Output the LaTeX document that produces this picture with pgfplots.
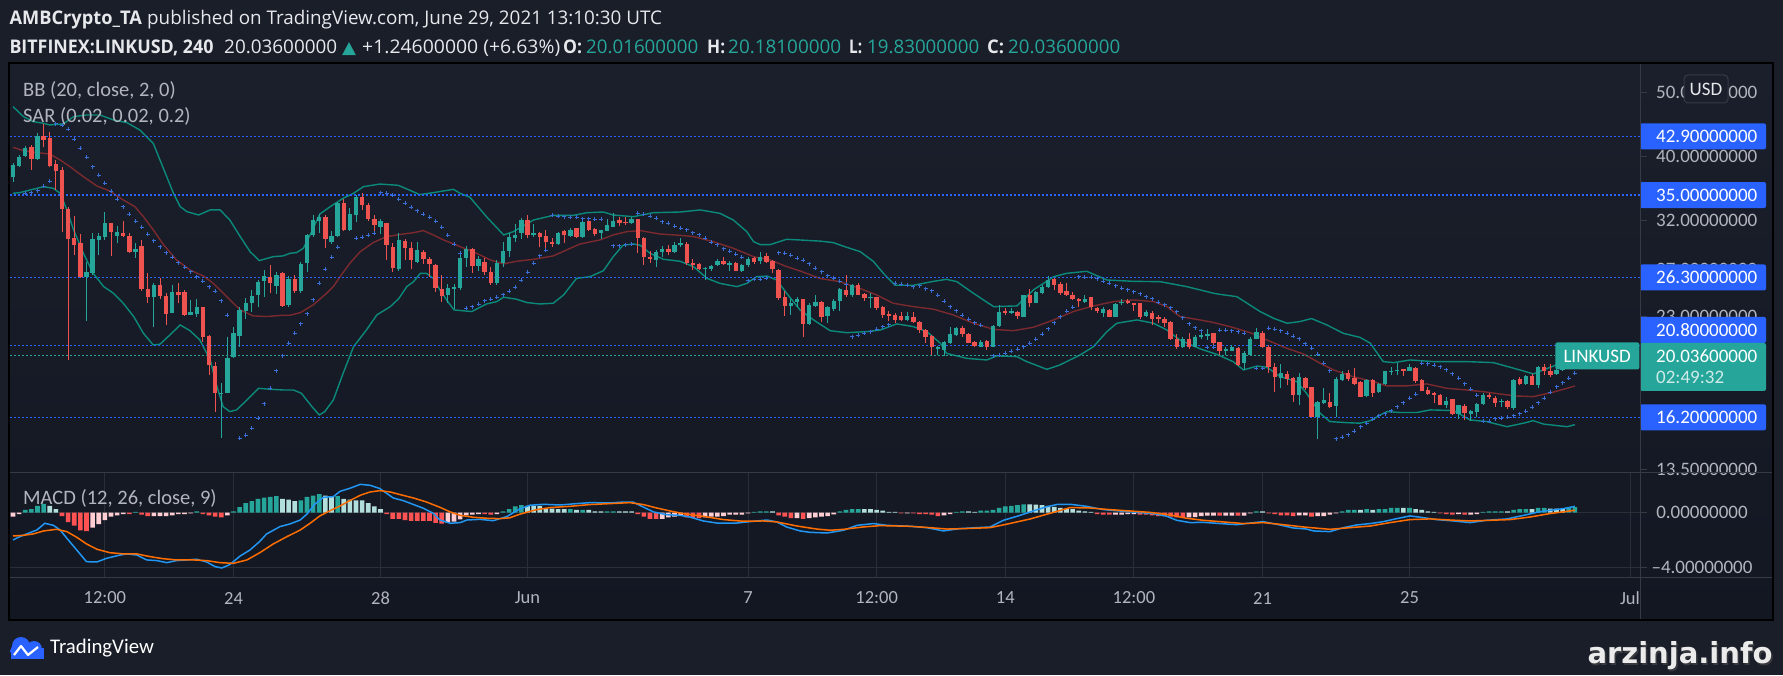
\documentclass[border=0pt]{standalone}
\usepackage{fontspec}
\setmainfont{Carlito}
\newfontfamily\dejavu{DejaVu Sans}
\newfontfamily\hdrfont{Open Sans}
\usepackage{graphicx}
\usepackage{pgfplots}
\pgfplotsset{compat=1.18}
\usepackage{pgfplotstable}
\usepgfplotslibrary{fillbetween}

\definecolor{bgout}{HTML}{1A1E29}
\definecolor{panetop}{HTML}{1B1F2B}
\definecolor{panebot}{HTML}{131722}
\definecolor{gridc}{HTML}{2A2E39}
\definecolor{sepc}{HTML}{363A45}
\definecolor{upc}{HTML}{26A69A}
\definecolor{dnc}{HTML}{EF5350}
\definecolor{bbc}{HTML}{0B8A7B}
\definecolor{midc}{HTML}{7A2A2E}
\definecolor{sarc}{HTML}{3A6FD8}
\definecolor{lvlc}{HTML}{2962FF}
\definecolor{macdc}{HTML}{2196F3}
\definecolor{sigc}{HTML}{FF6D00}
\definecolor{hA}{HTML}{26A69A}
\definecolor{hB}{HTML}{B2DFDB}
\definecolor{hC}{HTML}{FF5252}
\definecolor{hD}{HTML}{FFCDD2}
\definecolor{labc}{HTML}{B2B5BE}
\definecolor{hdrc}{HTML}{E6E8EC}
\definecolor{tvblue}{HTML}{2962FF}

\newcommand\hdrf{\hdrfont\fontsize{18.8}{22}\selectfont}
\newcommand\lgdf{\fontsize{20.5}{24}\selectfont}
\newcommand\axf{\fontsize{19}{22}\selectfont}
\newcommand\tkf{\fontsize{18.5}{22}\selectfont}
% header segment: x position, target width, content
\newcommand\hseg[4][hdrc]{\node[anchor=base west, inner sep=0pt, text=#1] at (#2) {\resizebox{#3}{\height}{\hdrf #4}};}

\pgfplotstableread{
n o h l c
1 37.22 39.07 36.66 38.85
2 38.71 40.21 38.62 39.98
3 40.07 41.49 39.89 41.15
4 41.29 41.63 38.18 39.66
5 39.66 43.35 39.52 42.95
6 42.95 44.78 41.29 42.36
7 42.61 43.60 38.53 38.71
8 38.98 39.52 35.62 38.09
9 38.18 38.62 30.83 33.39
10 33.31 33.62 19.76 30.05
11 30.13 32.55 28.43 29.44
12 29.68 30.58 26.25 26.31
13 26.31 27.79 22.65 26.81
14 26.68 30.65 26.53 30.02
15 29.95 30.65 28.43 30.37
16 30.23 33.00 29.95 31.73
17 31.73 31.80 28.37 30.83
18 30.37 31.44 29.68 30.79
19 30.69 31.95 30.23 30.37
20 30.37 30.72 28.60 28.73
21 28.73 29.68 28.18 29.07
22 29.34 29.95 25.13 25.25
23 25.25 26.68 24.11 24.61
24 24.61 25.83 22.18 25.60
25 25.60 26.28 24.39 24.67
26 24.67 24.90 22.31 23.18
27 23.28 25.63 23.23 25.02
28 25.02 25.77 24.05 24.78
29 25.02 25.19 23.02 23.07
30 23.12 24.33 23.10 23.34
31 23.18 24.39 22.91 23.72
32 23.72 23.77 21.06 21.42
33 21.47 21.52 18.76 19.40
34 19.35 19.63 16.52 17.60
35 17.56 18.27 15.07 17.64
36 17.64 21.37 17.60 19.90
37 19.94 22.18 19.87 21.67
38 21.47 23.77 20.69 23.50
39 23.45 24.47 22.75 24.05
40 24.05 25.19 23.37 24.67
41 24.73 26.07 23.77 25.89
42 26.01 26.99 24.61 26.43
43 26.31 27.47 24.90 25.77
44 25.54 26.84 24.84 26.50
45 26.68 26.84 23.77 23.83
46 23.88 26.43 23.77 26.19
47 26.13 26.53 24.96 25.13
48 25.07 27.79 24.96 27.57
49 27.69 30.58 26.84 30.44
50 30.44 32.66 30.30 32.10
51 32.03 32.77 30.65 32.40
52 32.40 32.62 29.10 30.02
53 29.74 30.94 29.54 30.37
54 30.37 34.21 30.30 34.01
55 34.01 34.49 30.94 31.01
56 31.01 33.43 30.94 32.77
57 32.62 35.01 31.91 34.81
58 34.81 35.29 33.24 33.78
59 33.78 34.01 32.03 32.25
60 32.18 32.62 30.65 31.51
61 31.37 32.18 30.58 31.95
62 31.73 31.80 27.95 29.41
63 29.20 29.68 26.81 27.18
64 27.12 30.65 26.93 29.95
65 29.81 30.09 27.95 29.14
66 29.14 29.78 27.06 27.95
67 27.79 29.78 27.63 28.94
68 28.73 28.94 27.57 28.08
69 28.01 28.21 26.37 27.57
70 27.47 27.53 25.05 25.36
71 25.25 26.53 24.19 24.67
72 24.78 25.71 24.11 25.36
73 25.31 25.71 23.56 25.48
74 25.36 28.67 25.19 28.11
75 28.14 29.34 27.31 29.07
76 29.07 29.10 26.74 27.37
77 27.37 28.34 26.93 28.01
78 27.76 28.14 26.56 26.81
79 26.81 27.31 25.60 25.83
80 25.83 27.95 25.60 27.69
81 27.63 29.74 27.25 28.83
82 28.87 30.72 28.21 30.27
83 30.16 31.62 29.78 30.51
84 30.69 32.29 30.09 32.10
85 32.10 32.66 30.20 30.44
86 30.48 31.66 30.30 30.69
87 30.69 30.83 29.20 30.30
88 30.37 31.01 28.87 29.78
89 29.78 30.13 29.27 29.54
90 29.54 30.83 29.44 30.72
91 30.87 31.01 29.68 30.48
92 30.41 31.23 30.30 31.05
93 31.19 31.23 30.13 30.30
94 30.30 32.10 30.13 31.88
95 31.95 32.18 30.94 31.01
96 31.12 31.19 30.41 30.58
97 30.72 31.01 30.05 31.01
98 30.94 32.25 30.87 31.55
99 31.37 32.85 31.30 32.03
100 32.10 32.48 31.44 31.73
101 31.91 32.40 31.55 31.73
102 31.73 32.40 31.66 32.25
103 32.18 32.25 28.67 30.16
104 30.16 30.23 27.44 28.21
105 28.21 28.87 27.69 28.01
106 27.95 28.94 27.25 28.73
107 28.73 29.34 28.27 29.07
108 29.07 29.41 28.40 28.73
109 28.73 29.78 28.60 29.41
110 29.41 30.16 29.27 29.68
111 29.54 29.74 27.44 27.63
112 27.69 28.01 26.99 27.50
113 27.57 27.63 26.99 27.06
114 27.12 27.31 26.07 27.21
115 27.12 27.50 26.87 27.37
116 27.50 28.01 27.37 27.88
117 27.85 28.27 27.50 27.57
118 27.44 27.82 26.93 27.63
119 27.69 27.76 26.87 26.93
120 26.93 27.57 26.81 27.44
121 27.50 28.27 27.31 28.01
122 28.14 28.27 27.57 27.76
123 27.88 28.73 27.57 28.27
124 28.34 28.67 27.69 27.76
125 27.82 27.95 26.68 27.06
126 26.99 27.06 24.33 24.50
127 24.56 25.07 23.02 23.83
128 23.83 24.39 23.10 24.11
129 24.19 24.56 23.77 24.39
130 24.39 24.44 21.37 22.39
131 22.39 24.05 22.28 23.88
132 23.83 24.76 23.72 24.16
133 24.16 24.27 22.57 22.97
134 23.02 23.83 22.49 23.72
135 23.61 24.39 23.45 24.27
136 24.27 25.36 23.45 25.25
137 25.19 26.53 24.56 24.73
138 24.78 25.71 24.61 25.60
139 25.60 25.83 24.73 24.78
140 24.84 24.96 24.27 24.50
141 24.50 24.90 23.67 24.61
142 24.56 24.61 23.50 23.67
143 23.77 23.83 22.86 23.07
144 23.18 23.45 22.65 23.02
145 23.07 23.28 22.44 22.70
146 23.02 23.34 22.60 22.70
147 22.70 23.34 22.60 23.02
148 22.97 23.34 22.44 22.54
149 22.54 22.65 21.72 21.92
150 21.92 22.03 20.94 21.42
151 21.47 21.52 20.13 20.64
152 20.55 20.74 20.08 20.64
153 20.45 21.13 20.04 21.03
154 20.94 22.18 20.89 21.62
155 21.52 22.18 21.47 22.08
156 22.08 22.23 21.42 21.62
157 21.62 21.72 20.94 20.99
158 21.03 21.13 20.64 20.74
159 20.69 21.18 20.64 21.03
160 21.08 21.18 20.45 20.69
161 20.69 22.31 20.64 22.23
162 22.23 23.91 22.18 23.34
163 23.45 23.67 23.12 23.23
164 23.23 23.64 23.20 23.45
165 23.34 23.39 22.81 23.02
166 22.97 24.78 22.91 24.73
167 24.73 25.25 23.77 24.05
168 24.11 25.07 24.05 25.02
169 24.96 25.60 24.84 25.42
170 25.42 26.43 25.36 26.07
171 26.13 26.25 25.19 25.60
172 25.71 25.89 24.73 24.96
173 25.13 25.83 24.67 24.73
174 24.78 25.02 24.33 24.39
175 24.39 24.50 23.77 24.22
176 24.16 24.73 24.11 24.44
177 24.56 24.61 23.50 23.72
178 23.67 23.77 23.28 23.39
179 23.28 23.77 22.91 23.56
180 23.50 23.56 22.91 22.97
181 22.97 24.05 22.91 23.99
182 24.05 24.39 23.94 24.16
183 24.27 24.39 24.00 24.11
184 24.05 24.11 23.45 23.91
185 24.05 24.11 22.81 22.97
186 23.02 23.50 22.97 23.37
187 23.28 23.39 22.28 22.81
188 22.91 23.07 22.49 22.75
189 22.75 22.97 22.13 22.44
190 22.54 22.60 21.18 21.23
191 21.23 21.62 20.55 20.69
192 20.64 21.37 20.59 21.23
193 21.23 21.67 20.55 20.64
194 20.69 21.52 20.64 21.42
195 21.42 21.72 21.23 21.57
196 21.47 21.97 21.18 21.62
197 21.67 21.72 20.50 20.94
198 21.03 21.06 20.10 20.40
199 20.36 20.64 20.08 20.55
200 20.40 20.79 20.36 20.69
201 20.59 20.69 19.35 19.44
202 19.58 20.40 19.09 20.22
203 20.13 21.42 20.08 21.28
204 21.28 22.08 21.23 21.77
205 21.72 21.82 20.59 20.64
206 20.64 20.79 18.87 19.27
207 19.27 19.58 17.70 18.65
208 18.57 19.49 17.91 18.91
209 18.83 19.00 18.10 18.53
210 18.57 18.61 17.08 17.48
211 17.52 18.87 16.89 18.61
212 18.57 18.61 17.81 17.93
213 17.97 18.02 16.20 16.24
214 16.24 17.16 15.05 17.08
215 17.00 17.91 16.97 17.20
216 17.08 17.64 16.70 16.77
217 16.85 18.65 16.20 18.48
218 18.44 19.04 18.34 18.83
219 18.87 19.09 18.36 18.48
220 18.57 19.20 18.10 18.19
221 18.31 18.40 17.36 17.40
222 17.44 18.48 17.36 18.44
223 18.44 18.48 17.36 17.64
224 17.68 18.23 17.64 18.19
225 18.19 19.04 18.14 19.00
226 19.00 19.31 18.76 19.04
227 19.00 19.58 18.78 19.09
228 19.13 19.18 18.70 19.00
229 19.04 19.49 19.00 19.27
230 19.22 19.27 18.23 18.36
231 18.44 18.53 17.74 17.76
232 17.81 17.97 17.52 17.56
233 17.60 17.68 17.00 17.48
234 17.52 17.56 16.89 16.93
235 16.89 17.36 16.73 17.12
236 17.24 17.28 16.35 16.39
237 16.39 16.93 16.09 16.89
238 16.85 16.97 16.05 16.43
239 16.39 16.62 16.01 16.54
240 16.47 17.00 16.20 16.97
241 16.97 17.60 16.93 17.52
242 17.52 17.60 17.28 17.36
243 17.32 17.44 16.81 17.04
244 17.08 17.28 16.81 17.12
245 17.16 17.20 16.66 16.81
246 16.73 18.48 16.62 18.44
247 18.53 18.61 18.10 18.19
248 18.19 18.78 18.14 18.70
249 18.70 18.83 18.10 18.14
250 18.14 19.35 17.91 19.27
251 19.27 19.49 18.74 19.04
252 19.04 19.49 18.61 18.78
253 18.83 19.49 18.78 19.09
254 19.09 19.70 19.00 19.60
255 19.60 20.10 19.45 20.02
256 20.016 20.181 19.83 20.036
}\candles

\pgfplotstableread{
n v
1 47.55
2.7 45.93
4.3 45.14
6 44.88
7 44.62
9.2 44.78
10.9 45.93
13 46.19
15.2 46.19
17.4 45.40
19.6 44.98
21.7 43.85
23.9 41.87
25 39.52
26.1 37.30
27.2 35.21
28.3 33.62
29.4 33.04
31.3 32.66
33.2 33.24
34.8 33.24
36.4 32.10
38.1 30.30
39.7 28.77
41.2 27.88
43.5 28.27
45.1 28.34
46.2 28.60
47.3 28.67
48.4 29.10
49.5 30.48
51.1 32.77
52.8 33.62
54.9 34.61
56.6 35.21
58.2 36.03
60.9 36.36
63.9 36.20
65.8 35.58
67.4 35.05
69.6 35.29
72.9 35.70
74.0 35.21
75.6 34.73
78.3 32.47
81.1 30.48
82.7 30.83
86.0 32.10
89.2 32.62
92.5 32.62
94.7 32.92
97.4 33.00
99.0 32.66
102.3 32.47
105.5 32.92
109.9 33.00
113.2 33.24
116.4 32.85
118.6 32.10
120.8 30.83
121.9 29.78
123.0 29.47
124.6 29.47
127.3 30.02
129.5 29.95
132.8 29.83
134.9 29.68
137.1 29.20
139.3 28.77
141.5 27.79
143.1 26.68
145.0 25.60
148.0 25.60
151.3 25.95
153.4 26.13
155.1 25.92
157.8 24.90
161.1 23.77
164.9 23.83
167.6 25.19
170.9 26.37
173.0 26.68
176.3 26.87
179.6 26.07
183.9 25.95
188.3 25.92
192.6 25.48
194.8 25.19
197.0 24.90
198.1 24.80
200.8 24.61
204.6 23.37
206.8 22.83
209.0 22.44
211.1 22.57
213.0 22.81
215.5 22.31
218.2 21.67
220.9 21.37
222.6 20.94
224.7 19.65
226.4 19.58
229.1 19.76
232.9 19.65
238.3 19.65
242.7 19.58
247.0 19.09
249.2 18.83
252.5 19.35
254.7 19.76
256 19.88
}\bbU

\pgfplotstableread{
n v
1 35.21
2.1 35.29
3.8 35.62
6 36.03
7.6 35.82
8.7 35.21
9.8 33.24
10.9 31.01
12.5 28.60
14.1 26.68
15.8 25.48
17.4 24.90
19.0 24.05
20.7 22.97
22.3 21.67
23.9 20.81
25.0 20.87
26.6 21.54
28.3 22.31
29.9 21.87
31.5 21.18
33.2 19.76
34.3 18.02
35.3 16.81
36.4 16.52
37.5 16.62
39.2 17.20
41.1 17.91
43.0 17.85
45.1 17.81
46.8 17.81
48.1 17.60
49.8 16.81
51.0 16.33
51.9 16.52
53.3 17.20
54.9 18.87
56.6 20.69
58.7 21.92
60.4 23.10
62.6 23.77
64.0 24.45
65.3 25.48
66.4 25.92
67.5 26.68
68.5 26.68
69.6 26.22
70.7 25.19
71.8 24.33
73.0 23.50
75.9 23.37
78.3 23.99
80.0 24.19
81.1 24.56
83.2 24.39
84.9 24.11
87.0 23.99
89.2 24.05
90.9 24.76
93.0 26.22
95.2 26.37
97.4 26.93
99.0 28.27
100.6 29.41
102.3 29.54
103.4 29.41
105.0 28.60
107.2 28.01
109.9 27.82
112.1 27.31
114.3 26.22
116.4 25.77
119.2 25.48
120.8 25.77
122.4 26.37
124.1 26.43
125.7 26.07
127.3 24.90
129.5 23.50
131.7 22.70
134.4 21.87
137.1 21.72
140.4 21.80
142.6 21.92
145.3 22.39
148.0 22.18
150.2 21.80
152.4 20.94
153.4 20.22
156.7 19.87
160.0 19.76
161.6 20.04
164.9 19.99
166.5 19.65
169.8 19.13
171.9 19.42
175.2 20.10
177.4 20.69
179.6 21.80
181.2 22.44
184.5 22.70
187.2 22.44
189.4 21.92
191.5 21.18
194.8 20.54
197.5 20.15
200.2 19.65
201.9 19.09
204.1 19.35
205.7 19.27
207.9 18.65
210.6 18.33
212.2 17.60
214.4 16.43
216.0 15.96
218.8 15.90
220.9 15.87
222.6 16.01
224.2 16.33
225.3 16.52
227.5 16.47
230.2 16.47
232.4 16.62
236.2 16.58
238.9 16.05
241.6 15.96
244.9 15.68
247.6 15.87
249.2 16.01
250.9 15.82
254.7 15.68
256 15.79
}\bbL

\pgfplotstableread{
n v
1 41.29
2.7 40.82
4.9 40.54
7.0 40.35
8.7 39.52
10.3 38.62
12.5 37.30
14.7 36.11
16.8 35.49
19.0 34.41
20.9 33.62
22.3 32.47
23.9 31.01
25.6 29.44
27.7 27.95
29.9 26.99
32.1 26.43
33.7 25.77
35.9 24.61
38.1 23.50
40.2 23.02
42.4 22.97
45.1 23.07
46.2 23.07
47.9 23.28
50.0 23.91
52.2 24.90
53.3 25.48
54.4 26.37
56.0 27.63
57.7 28.77
59.8 29.68
62.0 30.30
64.2 30.53
66.4 30.72
68.0 30.94
69.6 30.48
71.3 29.95
74.0 29.27
76.7 28.60
78.9 27.95
81.1 27.57
83.2 27.82
86.0 28.01
89.2 28.34
91.4 28.94
93.6 29.54
96.8 29.95
99.0 30.48
101.2 30.83
103.4 30.94
106.6 30.58
109.9 30.44
112.1 30.30
115.3 29.78
118.6 29.10
121.9 28.27
124.6 27.95
127.3 27.31
129.5 26.90
132.8 26.20
136.0 25.92
139.3 25.31
142.0 24.76
144.7 24.05
148.0 23.77
151.3 23.56
154.5 23.10
157.8 22.44
161.1 21.97
164.3 21.87
167.6 22.13
170.9 22.70
174.1 23.37
177.4 23.83
180.7 24.19
183.9 24.33
187.2 24.19
189.4 23.77
191.5 22.97
194.8 22.70
197.0 22.50
199.7 22.18
203.0 21.72
205.7 21.18
209.0 20.57
211.7 20.17
214.4 19.54
216.6 19.09
219.8 18.65
223.1 18.33
225.3 18.06
228.5 18.06
231.8 18.19
235.1 17.91
238.3 17.81
241.1 17.70
243.8 17.56
246.5 17.44
249.2 17.40
252.5 17.68
254.7 17.91
256 18.06
}\bbM

\pgfplotstableread{
n v
3 35.21
4 35.29
5 35.53
6 36.11
7 36.70
8 44.78
9 44.62
10 43.95
11 42.46
12 41.15
13 39.89
14 38.62
15 37.48
16 36.45
17 35.45
18 34.49
19 33.62
20 32.77
21 31.95
22 31.30
23 30.58
24 29.88
25 29.27
26 28.67
27 28.21
28 27.69
29 27.25
30 26.81
31 26.37
32 25.95
33 25.48
34 25.07
35 24.27
36 23.07
38 15.07
39 15.21
40 15.60
41 16.15
42 16.97
43 17.91
44 19.04
45 20.04
46 20.94
47 21.67
48 22.39
49 23.18
50 24.33
51 25.77
52 27.06
53 28.21
54 29.20
57 30.13
58 30.23
59 30.44
60 30.65
61 35.29
62 35.21
63 35.01
64 34.49
65 34.01
66 33.55
67 33.16
68 32.74
69 32.40
70 31.95
71 31.30
72 30.44
73 29.54
74 28.60
75 23.64
76 23.77
77 23.97
78 24.25
79 24.39
80 24.56
81 24.76
82 25.07
83 25.42
84 26.07
85 26.77
86 27.63
87 28.34
88 28.90
89 32.62
90 32.55
91 32.47
92 32.40
93 32.40
94 32.25
95 32.25
96 32.18
97 32.18
99 29.34
100 29.34
101 29.44
102 29.54
103 32.85
104 32.77
105 32.55
106 32.29
107 31.91
108 31.73
109 31.44
110 31.19
111 31.01
112 30.72
113 30.48
114 30.13
115 29.74
116 29.44
117 29.07
118 28.80
119 28.53
120 28.21
121 26.01
122 26.13
123 26.13
124 26.22
126 28.67
127 28.60
128 28.40
129 28.11
130 27.92
131 27.57
132 27.18
133 26.84
134 26.47
135 26.22
136 25.98
137 25.69
138 21.42
139 21.54
140 21.67
141 21.80
142 21.97
143 22.18
144 22.31
145 25.77
146 25.69
147 25.60
148 25.48
149 25.54
150 25.31
151 25.10
152 24.73
153 24.22
154 23.77
155 23.45
156 23.07
157 22.75
158 22.49
159 22.28
161 20.06
162 20.10
163 20.22
164 20.36
165 20.50
166 20.69
167 20.94
168 21.23
169 21.62
170 22.03
171 22.49
172 22.97
173 23.39
174 23.72
175 26.37
176 26.31
177 26.31
178 26.19
179 25.95
180 25.77
181 25.54
182 25.33
183 25.19
184 25.02
185 24.84
186 24.61
187 24.44
188 24.16
189 23.94
190 23.67
191 23.34
192 22.89
193 22.39
194 22.08
195 21.85
196 20.64
197 20.64
198 21.92
199 21.92
200 21.87
201 21.80
202 21.67
204 19.20
205 19.20
206 22.05
207 22.00
208 21.87
209 21.67
210 21.47
211 21.28
212 20.89
213 20.57
214 20.15
215 19.54
216 19.04
217 15.05
218 15.12
219 15.26
220 15.45
221 15.68
222 15.87
223 16.09
224 16.28
225 16.39
226 16.58
227 16.81
228 17.04
229 17.30
230 17.56
231 19.54
232 19.49
233 19.40
234 19.31
235 19.09
236 18.83
237 18.55
238 18.19
239 17.85
240 17.48
241 15.98
242 15.98
243 16.13
244 16.16
245 16.20
246 16.28
247 16.39
248 16.54
249 16.77
250 17.04
251 17.32
252 17.68
253 18.02
254 18.27
255 18.55
256 18.87
}\sar

\pgfplotstableread{
n v k
1 -0.30 4
2 -0.10 4
3 0.20 1
4 0.25 1
5 0.50 1
6 0.65 1
7 0.50 2
8 0.25 2
9 -0.25 3
10 -0.70 3
11 -0.95 3
12 -1.30 3
13 -1.35 3
14 -1.10 4
15 -0.85 4
16 -0.55 4
17 -0.30 4
18 -0.20 4
19 -0.10 4
20 -0.10 3
21 0.05 1
22 -0.15 3
23 -0.25 3
24 -0.25 4
25 -0.25 4
26 -0.25 4
27 -0.20 4
28 -0.10 4
29 -0.10 4
30 -0.05 4
31 0.10 1
32 -0.10 3
33 -0.20 3
34 -0.30 3
35 -0.35 3
36 -0.20 4
37 0.10 1
38 0.40 1
39 0.70 1
40 0.85 1
41 1.00 1
42 1.10 1
43 1.15 1
44 1.20 1
45 1.00 2
46 0.95 2
47 0.85 2
48 0.90 1
49 1.15 1
50 1.25 1
51 1.35 1
52 1.25 2
53 1.15 2
54 1.20 1
55 1.00 2
56 0.95 2
57 0.90 2
58 0.90 2
59 0.70 2
60 0.45 2
61 0.25 2
62 -0.10 3
63 -0.45 3
64 -0.45 3
65 -0.55 3
66 -0.60 3
67 -0.60 3
68 -0.60 3
69 -0.60 3
70 -0.75 3
71 -0.80 3
72 -0.75 4
73 -0.65 4
74 -0.50 4
75 -0.20 4
76 -0.15 4
77 -0.10 4
78 -0.10 3
79 -0.15 3
80 -0.10 4
81 0.10 1
82 0.25 1
83 0.45 1
84 0.55 1
85 0.50 2
86 0.50 2
87 0.50 2
88 0.30 2
89 0.30 2
90 0.25 2
91 0.25 2
92 0.25 1
93 0.20 2
94 0.20 1
95 0.20 2
96 0.10 2
97 0.10 2
98 0.10 1
99 0.10 1
100 0.10 2
101 0.10 2
102 0.10 2
103 -0.10 3
104 -0.30 3
105 -0.45 3
106 -0.45 3
107 -0.45 4
108 -0.35 4
109 -0.30 4
110 -0.20 4
111 -0.35 3
112 -0.40 3
113 -0.40 3
114 -0.35 4
115 -0.30 4
116 -0.30 4
117 -0.25 4
118 -0.15 4
119 -0.15 4
120 -0.15 4
121 -0.05 4
122 0.05 1
123 0.10 1
124 0.10 1
125 0.10 2
126 -0.20 3
127 -0.30 3
128 -0.40 3
129 -0.40 4
130 -0.45 3
131 -0.40 4
132 -0.35 4
133 -0.30 4
134 -0.25 4
135 -0.12 4
136 0.10 1
137 0.20 1
138 0.25 1
139 0.25 1
140 0.25 2
141 0.25 2
142 0.20 2
143 0.15 2
144 0.05 2
145 0.05 2
146 -0.05 3
147 -0.05 4
148 -0.05 3
149 -0.10 3
150 -0.10 3
151 -0.15 3
152 -0.25 3
153 -0.20 4
154 -0.10 4
155 0.05 1
156 0.10 1
157 0.10 2
158 0.05 2
159 0.15 1
160 0.15 1
161 0.20 1
162 0.35 1
163 0.45 1
164 0.50 1
165 0.55 1
166 0.60 1
167 0.60 2
168 0.58 2
169 0.55 2
170 0.50 2
171 0.42 2
172 0.35 2
173 0.30 2
174 0.25 2
175 0.15 2
176 0.10 2
177 0.05 2
178 -0.10 3
179 -0.15 3
180 -0.15 3
181 -0.15 4
182 -0.15 4
183 -0.10 4
184 -0.10 4
185 -0.15 3
186 -0.15 3
187 -0.20 3
188 -0.25 3
189 -0.25 3
190 -0.30 3
191 -0.35 3
192 -0.40 3
193 -0.35 4
194 -0.32 4
195 -0.25 4
196 -0.22 4
197 -0.22 4
198 -0.22 3
199 -0.22 4
200 -0.22 4
201 -0.22 3
202 -0.22 4
203 -0.05 4
204 0.10 1
205 0.10 2
206 -0.05 3
207 -0.10 3
208 -0.20 3
209 -0.20 3
210 -0.25 3
211 -0.20 4
212 -0.20 4
213 -0.30 3
214 -0.25 4
215 -0.25 4
216 -0.15 4
217 -0.05 4
218 0.10 1
219 0.20 1
220 0.20 1
221 0.20 2
222 0.25 1
223 0.20 2
224 0.25 1
225 0.25 1
226 0.35 1
227 0.35 1
228 0.35 2
229 0.35 1
230 0.25 2
231 0.20 2
232 0.10 2
233 0.05 2
234 -0.05 3
235 -0.10 3
236 -0.15 3
237 -0.10 4
238 -0.15 3
239 -0.15 4
240 -0.10 4
241 0.05 1
242 0.10 1
243 0.10 1
244 0.10 1
245 0.10 2
246 0.20 1
247 0.25 1
248 0.25 1
249 0.25 2
250 0.35 1
251 0.35 1
252 0.30 2
253 0.30 2
254 0.30 2
255 0.40 1
256 0.40 1
}\hist

\pgfplotstableread{
n v
1 -2.00
2.1 -1.76
3.8 -1.46
4.9 -1.27
6.2 -0.78
7.6 -0.93
8.7 -1.27
9.8 -1.88
11.4 -2.73
13.0 -3.59
14.7 -3.61
16.3 -3.34
18.5 -3.10
19.6 -3.02
21.2 -3.10
22.8 -3.46
24.5 -3.51
26.1 -3.66
27.7 -3.51
29.4 -3.46
31.0 -3.41
32.6 -3.61
34.0 -3.95
35.1 -4.05
36.4 -3.80
38.1 -3.17
39.7 -2.73
41.3 -2.10
42.4 -1.56
44.6 -1.02
46.2 -0.83
47.9 -0.54
49.0 -0.10
50.3 0.63
51.7 1.12
53.3 1.17
54.4 1.56
56.0 1.78
57.7 2.07
59.3 2.00
60.9 1.76
62.0 1.41
63.1 1.07
64.7 0.88
66.4 0.59
68.0 0.32
69.6 -0.05
70.7 -0.54
72.4 -0.78
74.0 -0.73
75.1 -0.54
77.2 -0.49
79.4 -0.59
81.6 -0.29
83.7 0.26
85.4 0.54
87.6 0.61
90.3 0.56
93.0 0.66
95.2 0.73
98.5 0.71
100.1 0.76
102.3 0.76
103.9 0.41
105.6 0.05
107.7 -0.15
109.9 -0.20
111.5 -0.32
113.7 -0.61
115.9 -0.76
119.2 -0.76
121.3 -0.66
124.1 -0.54
125.7 -0.68
127.3 -1.05
129.5 -1.34
131.1 -1.44
133.9 -1.49
136.6 -1.29
138.8 -0.93
141.5 -0.80
143.7 -0.93
147.5 -1.00
150.2 -1.10
152.9 -1.34
155.6 -1.17
158.3 -1.10
160.5 -1.05
162.7 -0.56
164.9 -0.27
167.1 0.05
169.5 0.40
171.5 0.60
173.6 0.61
176.3 0.46
179.0 0.22
181.7 0.12
184.5 0.02
187.2 -0.07
189.4 -0.27
191.0 -0.56
193.2 -0.73
195.3 -0.71
198.1 -0.80
200.8 -0.88
203.0 -0.76
205.1 -0.66
207.3 -0.85
210.0 -1.12
212.2 -1.20
213.3 -1.34
216.0 -1.39
218.2 -1.10
220.4 -0.90
222.6 -0.80
224.7 -0.66
226.9 -0.44
229.1 -0.24
231.3 -0.37
233.4 -0.51
236.2 -0.61
238.9 -0.73
241.6 -0.56
244.9 -0.46
247.6 -0.20
249.8 0.02
251.9 0.17
254.1 0.29
256.0 0.46
}\macd

\pgfplotstableread{
n v
1 -1.71
2.7 -1.66
4.3 -1.56
6.0 -1.34
8.1 -1.22
9.8 -1.39
11.4 -1.80
13.0 -2.29
14.7 -2.68
16.8 -2.93
19.0 -3.02
21.2 -3.02
23.4 -3.22
25.5 -3.37
27.7 -3.46
30.4 -3.46
32.6 -3.51
34.8 -3.66
37.0 -3.71
39.2 -3.46
41.3 -2.93
43.5 -2.29
45.7 -1.76
47.9 -1.27
49.5 -0.78
51.1 -0.24
52.8 0.15
54.4 0.49
56.0 0.88
57.7 1.27
59.3 1.51
60.9 1.61
62.6 1.51
64.2 1.32
66.4 1.07
68.5 0.78
70.7 0.39
72.4 0.05
74.0 -0.20
76.2 -0.34
78.3 -0.41
80.5 -0.44
82.1 -0.38
83.7 -0.12
86.5 0.22
88.7 0.37
91.9 0.46
95.2 0.59
98.5 0.66
101.7 0.73
103.9 0.59
106.1 0.34
108.3 0.12
110.4 -0.07
113.7 -0.27
117.0 -0.51
120.2 -0.63
123.5 -0.61
125.7 -0.68
129.0 -0.98
132.2 -1.20
134.4 -1.29
136.6 -1.22
139.8 -1.05
142.6 -0.95
147.5 -1.00
150.7 -1.10
153.5 -1.20
156.2 -1.17
160.5 -1.10
163.2 -0.85
167.1 -0.46
169.5 -0.15
171.5 0.10
173.6 0.37
176.8 0.34
180.1 0.22
183.4 0.12
186.6 0.02
189.9 -0.17
192.6 -0.41
195.3 -0.56
198.6 -0.68
201.9 -0.80
205.1 -0.73
208.4 -0.88
211.7 -1.05
216.0 -1.22
219.3 -1.10
222.6 -0.98
225.8 -0.73
229.1 -0.51
232.4 -0.46
235.6 -0.54
238.9 -0.61
242.1 -0.56
245.4 -0.51
248.7 -0.32
251.9 -0.07
256.0 0.17
}\signal

\pgfplotsset{
  tvaxis/.style={
    scale only axis, anchor=south west, width=1630pt,
    xmin=0.51, xmax=266.63,
    axis line style={draw=none}, major tick length=0pt,
    xticklabel=\empty, yticklabel=\empty,
    tick label style={opacity=0},
    xtick={16,37,61,85,121,142,163,184,205,229,265},
    grid=major, grid style={color=gridc, line width=1pt},
    clip=false,
  },
  lvl/.style={color=lvlc, line width=1.1pt, dash pattern=on 1.6pt off 2.4pt, forget plot},
}

\begin{document}
\begin{tikzpicture}
\fill[bgout] (0pt,0pt) rectangle (1783pt,675pt);
\shade[top color=panetop, bottom color=panebot] (9pt,55pt) rectangle (1773pt,612pt);

% header line 1
\hseg{9.3pt,650pt}{132.4pt}{\bfseries AMBCrypto\_TA}
\hseg{147pt,650pt}{514.7pt}{published on TradingView.com, June 29, 2021 13:10:30 UTC}
% header line 2
\hseg{9.3pt,621.7pt}{204pt}{\bfseries BITFINEX:LINKUSD, 240}
\hseg{224pt,621.7pt}{113pt}{20.03600000}
\node[anchor=base west, inner sep=0pt, text=upc] at (342pt,621.7pt) {\resizebox{14pt}{11pt}{\dejavu ▲}};
\hseg{362pt,621.7pt}{198pt}{+1.24600000 (+6.63\%)}
\hseg{563pt,621.7pt}{19pt}{\bfseries O:}
\hseg[upc]{586pt,621.7pt}{112pt}{20.01600000}
\hseg{707pt,621.7pt}{18pt}{\bfseries H:}
\hseg[upc]{728pt,621.7pt}{113pt}{20.18100000}
\hseg{849pt,621.7pt}{13pt}{\bfseries L:}
\hseg[upc]{867pt,621.7pt}{112pt}{19.83000000}
\hseg{987pt,621.7pt}{17pt}{\bfseries C:}
\hseg[upc]{1008pt,621.7pt}{112pt}{20.03600000}

% ---------------- price pane ----------------
\begin{axis}[tvaxis, at={(10pt,203pt)}, height=408pt,
  ymode=log, ymin=13.40, ymax=55.12,
  ytick={13.5,16,19,23,27,32,40,50}]
  \addplot[name path=bbU, color=bbc, line width=1.4pt, forget plot] table[x=n,y=v]{\bbU};
  \addplot[name path=bbL, color=bbc, line width=1.4pt, forget plot] table[x=n,y=v]{\bbL};
  \addplot[fill=upc, fill opacity=0.09, draw=none, forget plot] fill between[of=bbU and bbL];
  \addplot[color=midc, line width=1.4pt, forget plot] table[x=n,y=v]{\bbM};
  \addplot[lvl] coordinates {(0.51,42.9) (266.63,42.9)};
  \addplot[lvl] coordinates {(0.51,35) (266.63,35)};
  \addplot[lvl] coordinates {(0.51,26.3) (266.63,26.3)};
  \addplot[lvl] coordinates {(0.51,20.8) (266.63,20.8)};
  \addplot[lvl] coordinates {(0.51,16.2) (266.63,16.2)};
  \addplot[lvl, color=upc] coordinates {(0.51,20.036) (252.8,20.036)};
  \pgfplotsforeachungrouped \ii in {0,...,255}{%
    \pgfplotstablegetelem{\ii}{n}\of\candles\let\cN\pgfplotsretval
    \pgfplotstablegetelem{\ii}{o}\of\candles\let\cO\pgfplotsretval
    \pgfplotstablegetelem{\ii}{h}\of\candles\let\cH\pgfplotsretval
    \pgfplotstablegetelem{\ii}{l}\of\candles\let\cL\pgfplotsretval
    \pgfplotstablegetelem{\ii}{c}\of\candles\let\cC\pgfplotsretval
    \pgfmathtruncatemacro\isup{\cC>=\cO}%
    \ifnum\isup=1 \def\candcol{upc}\else\def\candcol{dnc}\fi
    \edef\tmp{\noexpand\addplot[color=\candcol, line width=1pt, forget plot] coordinates {(\cN,\cL) (\cN,\cH)};%
      \noexpand\addplot[color=\candcol, line width=4.4pt, forget plot] coordinates {(\cN,\cO) (\cN,\cC)};}%
    \tmp
  }
  \addplot[only marks, mark=+, mark size=2pt, color=sarc, mark options={line width=0.9pt}, forget plot] table[x=n,y=v]{\sar};

  % right scale labels (19 and 16 lie fully under the value boxes, as in the reference)
  \foreach \v/\t in {50/50.00000000, 40/40.00000000, 32/32.00000000, 27/27.00000000, 23/23.00000000, 13.5/13.50000000}{
    \edef\tmp{\noexpand\draw[color=sepc, line width=1pt] (axis cs:266.63,\v) -- ++(7pt,0pt);
      \noexpand\node[anchor=west, xshift=16pt, text=labc, font=\noexpand\axf, inner sep=0pt] at (axis cs:266.63,\v) {\t};}
    \tmp
  }
  \foreach \v/\c/\t in {42.9/42.9/42.90000000, 35/35/35.00000000, 26.3/26.3/26.30000000, 20.8/21.93/20.80000000, 16.2/16.2/16.20000000}{
    \edef\tmp{\noexpand\fill[tvblue, rounded corners=2pt] (axis cs:266.63,\c) ++(0pt,-13pt) rectangle ++(126pt,26pt);
      \noexpand\node[anchor=west, xshift=16pt, text=white, font=\noexpand\axf, inner sep=0pt] at (axis cs:266.63,\c) {\t};}
    \tmp
  }
  \fill[upc, rounded corners=2pt] (axis cs:266.63,20.96) rectangle ++(126pt,-48pt);
  \node[anchor=west, xshift=16pt, text=white, font=\axf, inner sep=0pt] at (axis cs:266.63,20.036) {20.03600000};
  \node[anchor=west, xshift=16pt, text=white!78!upc, font=\axf, inner sep=0pt] at (axis cs:266.63,18.57) {02:49:32};
  \fill[upc, rounded corners=2pt] (axis cs:252.8,20.036) ++(0pt,-13.5pt) rectangle ++(84pt,27pt);
  \node[anchor=west, xshift=8pt, text=white, font=\axf, inner sep=0pt] at (axis cs:252.8,20.036) {LINKUSD};
\end{axis}

% ---------------- MACD pane ----------------
\begin{axis}[tvaxis, at={(10pt,98pt)}, height=104pt,
  ymin=-4.71, ymax=2.90, ytick={-4,0}]
  \addplot[ybar, bar width=4.6pt, bar shift=0pt, fill=hA, draw=none, forget plot,
    restrict expr to domain={\thisrow{k}}{1:1}] table[x=n,y=v]{\hist};
  \addplot[ybar, bar width=4.6pt, bar shift=0pt, fill=hB, draw=none, forget plot,
    restrict expr to domain={\thisrow{k}}{2:2}] table[x=n,y=v]{\hist};
  \addplot[ybar, bar width=4.6pt, bar shift=0pt, fill=hC, draw=none, forget plot,
    restrict expr to domain={\thisrow{k}}{3:3}] table[x=n,y=v]{\hist};
  \addplot[ybar, bar width=4.6pt, bar shift=0pt, fill=hD, draw=none, forget plot,
    restrict expr to domain={\thisrow{k}}{4:4}] table[x=n,y=v]{\hist};
  \addplot[color=macdc, line width=1.5pt, forget plot] table[x=n,y=v]{\macd};
  \addplot[color=sigc, line width=1.5pt, forget plot] table[x=n,y=v]{\signal};
  \node[anchor=center, xshift=62pt, text=labc, font=\axf, inner sep=0pt] at (axis cs:266.63,0) {0.00000000};
  \node[anchor=center, xshift=62pt, text=labc, font=\axf, inner sep=0pt] at (axis cs:266.63,-4) {–4.00000000};
  \draw[color=sepc, line width=1pt] (axis cs:266.63,0) -- ++(7pt,0pt);
  \draw[color=sepc, line width=1pt] (axis cs:266.63,-4) -- ++(7pt,0pt);
  \node[text=labc, font=\tkf, yshift=-21pt] at (axis cs:16,-4.71) {12:00};
  \node[text=labc, font=\tkf, yshift=-21pt] at (axis cs:37,-4.71) {24};
  \node[text=labc, font=\tkf, yshift=-21pt] at (axis cs:61,-4.71) {28};
  \node[text=labc, font=\tkf, yshift=-21pt] at (axis cs:85,-4.71) {Jun};
  \node[text=labc, font=\tkf, yshift=-21pt] at (axis cs:121,-4.71) {7};
  \node[text=labc, font=\tkf, yshift=-21pt] at (axis cs:142,-4.71) {12:00};
  \node[text=labc, font=\tkf, yshift=-21pt] at (axis cs:163,-4.71) {14};
  \node[text=labc, font=\tkf, yshift=-21pt] at (axis cs:184,-4.71) {12:00};
  \node[text=labc, font=\tkf, yshift=-21pt] at (axis cs:205,-4.71) {21};
  \node[text=labc, font=\tkf, yshift=-21pt] at (axis cs:229,-4.71) {25};
  \node[text=labc, font=\tkf, yshift=-21pt] at (axis cs:265,-4.71) {Jul};
\end{axis}

% separators and frame
\draw[color=sepc, line width=1.2pt] (10pt,202.5pt) -- (1772pt,202.5pt);
\draw[color=sepc, line width=1pt] (10pt,98pt) -- (1772pt,98pt);
\draw[color=sepc, line width=1pt] (1640pt,56pt) -- (1640pt,611pt);
\draw[black, line width=2.5pt] (9pt,55pt) rectangle (1773pt,612pt);

% USD button
\draw[color=sepc, line width=1pt, fill=panetop, rounded corners=4pt] (1684pt,572pt) rectangle (1728pt,600pt);
\node[text=hdrc, font=\axf] at (1706pt,586pt) {USD};

% legends
\node[anchor=base west, inner sep=0pt, text=labc] at (23pt,578pt) {\lgdf BB (20, close, 2, 0)};
\node[anchor=base west, inner sep=0pt, text=labc] at (23pt,552.3pt) {\lgdf SAR (0.02, 0.02, 0.2)};
\node[anchor=base west, inner sep=0pt, text=labc] at (23pt,170.7pt) {\lgdf MACD (12, 26, close, 9)};

% TradingView logo
\fill[tvblue] (11pt,16pt) rectangle (44pt,27pt);
\fill[tvblue] (21pt,29pt) circle (9pt);
\fill[tvblue] (34pt,26pt) circle (8pt);
\fill[tvblue] (15pt,24pt) circle (5pt);
\draw[white, line width=2.2pt, line join=round] (14pt,20pt) -- (21pt,29pt) -- (28pt,20pt) -- (38pt,28pt);
\node[anchor=west, inner sep=0pt, text=white] at (50pt,27pt) {\fontsize{20.8}{24}\selectfont TradingView};

% watermark
\node[text=black!70, opacity=0.6] at (1681.5pt,17.5pt) {\fontsize{29}{32}\dejavu\bfseries arzinja.info};
\node[text=white!92!black] at (1680pt,19pt) {\fontsize{29}{32}\dejavu\bfseries arzinja.info};

\pgfresetboundingbox
\path[use as bounding box] (0pt,0pt) rectangle (1783pt,675pt);
\end{tikzpicture}
\end{document}
